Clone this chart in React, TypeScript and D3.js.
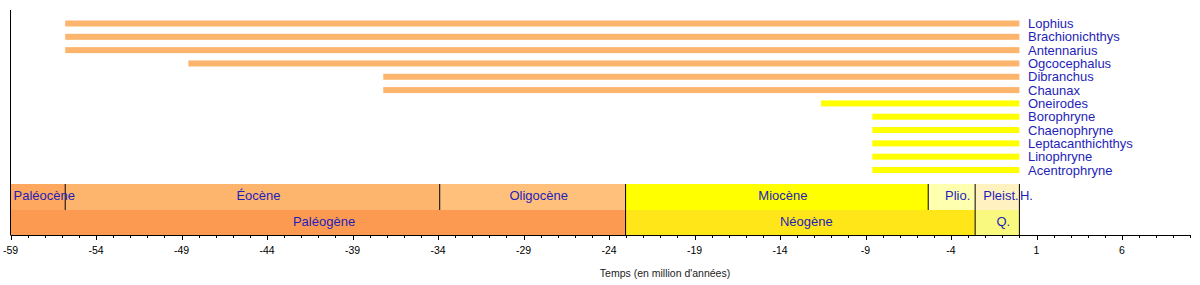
import React from "react";
import * as d3 from "d3";

const taxa = ["Lophius", "Brachionichthys", "Antennarius", "Ogcocephalus", "Dibranchus", "Chaunax", "Oneirodes", "Borophryne", "Chaenophryne", "Leptacanthichthys", "Linophryne", "Acentrophryne"];
const taxaStart = [-55.8, -55.8, -55.8, -48.6, -37.2, -37.2, -11.6, -8.6, -8.6, -8.6, -8.6, -8.6];
const taxaEnd = [0, 0, 0, 0, 0, 0, 0, 0, 0, 0, 0, 0];
const taxaColor = ["#FDB46C", "#FDB46C", "#FDB46C", "#FDB46C", "#FDB46C", "#FDB46C", "#FFFF00", "#FFFF00", "#FFFF00", "#FFFF00", "#FFFF00", "#FFFF00"];

const epochNames = ["Paléocène", "Éocène", "Oligocène", "Miocène", "Plio.", "Pleist.", "H."];
const epochStart = [-59, -55.8, -33.9, -23.03, -5.332, -2.588, -0.0117];
const epochEnd = [-55.8, -33.9, -23.03, -5.332, -2.588, -0.0117, 0];
const epochColor = ["#FDA75F", "#FDB46C", "#FEC07A", "#FFFF00", "#FFFFB0", "#FFF2C0", "#FEF2E0"];

const periodNames = ["Paléogène", "Néogène", "Q."];
const periodStart = [-59, -23.03, -2.588];
const periodEnd = [-23.03, -2.588, 0];
const periodColor = ["#FD9A52", "#FFE619", "#F9F97F"];

const majorTicks = [-59, -54, -49, -44, -39, -34, -29, -24, -19, -14, -9, -4, 1, 6];
const axisTitle = "Temps (en million d'années)";

export default function App() {
  const W = 1200, H = 285;
  const x = d3.scaleLinear().domain([-59, 10]).range([10.5, 1190.4]);
  const rowY = d3.scaleLinear().domain([0, taxa.length - 1]).range([23.5, 170]);
  const axisY = 235;
  const epochTop = 184, epochBot = 210;
  const minorTicks = d3.range(-59, 11, 1);
  const textColor = "#1e1eb8";
  const font = "Liberation Sans, Arial, sans-serif";
  const offs = 6;

  return (
    <svg width={W} height={H} style={{ position: "absolute", left: 0, top: 0, background: "#fff" }} fontFamily={font}>
      {taxa.map((t, i) => (
        <g key={t}>
          <rect x={x(taxaStart[i])} y={rowY(i) - 3} width={x(taxaEnd[i]) - x(taxaStart[i])} height={6} fill={taxaColor[i]} />
          <text x={1028} y={rowY(i) + 4.5} fontSize={13} fill={textColor}>{t}</text>
        </g>
      ))}
      {epochNames.map((n, i) => (
        <rect key={n} x={x(epochStart[i])} y={epochTop} width={x(epochEnd[i]) - x(epochStart[i])} height={epochBot - epochTop} fill={epochColor[i]} />
      ))}
      {periodNames.map((n, i) => (
        <rect key={n} x={x(periodStart[i])} y={epochBot} width={x(periodEnd[i]) - x(periodStart[i])} height={axisY - epochBot} fill={periodColor[i]} />
      ))}
      {[-55.8, -33.9, -5.332].map((v) => (
        <line key={v} x1={x(v)} x2={x(v)} y1={epochTop} y2={epochBot} stroke="#000" strokeWidth={1} />
      ))}
      {[-23.03, -2.588, 0].map((v) => (
        <line key={v} x1={x(v)} x2={x(v)} y1={epochTop} y2={axisY} stroke="#000" strokeWidth={1} />
      ))}
      {epochNames.map((n, i) => {
        let tx = (x(epochStart[i]) + x(epochEnd[i])) / 2 + offs;
        let anchor: "start" | "middle" | "end" = "middle";
        if (i === 0) { tx = x(epochStart[i]) + 3; anchor = "start"; }
        if (i === 5) { tx = x(epochEnd[i]) - 0.5; anchor = "end"; }
        if (i === 6) { tx = x(epochEnd[i]) + 0.5; anchor = "start"; }
        return (
          <text key={n} x={tx} y={200} fontSize={13} textAnchor={anchor} fill={textColor}>{n}</text>
        );
      })}
      {periodNames.map((n, i) => (
        <text key={n} x={(x(periodStart[i]) + x(periodEnd[i])) / 2 + offs} y={226} fontSize={13} textAnchor="middle" fill={textColor}>{n}</text>
      ))}
      <line x1={10.5} x2={10.5} y1={10} y2={axisY} stroke="#000" strokeWidth={1} />
      <line x1={10.5} x2={x(10)} y1={axisY + 0.5} y2={axisY + 0.5} stroke="#000" strokeWidth={1} />
      {minorTicks.map((v) => (
        <line key={v} x1={Math.round(x(v)) + 0.5} x2={Math.round(x(v)) + 0.5} y1={axisY} y2={axisY + 3} stroke="#000" strokeWidth={1} />
      ))}
      {majorTicks.map((v) => (
        <g key={v}>
          <line x1={Math.round(x(v)) + 0.5} x2={Math.round(x(v)) + 0.5} y1={axisY} y2={axisY + 5} stroke="#000" strokeWidth={1} />
          <text x={x(v)} y={254} fontSize={10.5} textAnchor="middle" fill="#000">{v}</text>
        </g>
      ))}
      <text x={665} y={277} fontSize={10.5} textAnchor="middle" fill="#222">{axisTitle}</text>
    </svg>
  );
}
